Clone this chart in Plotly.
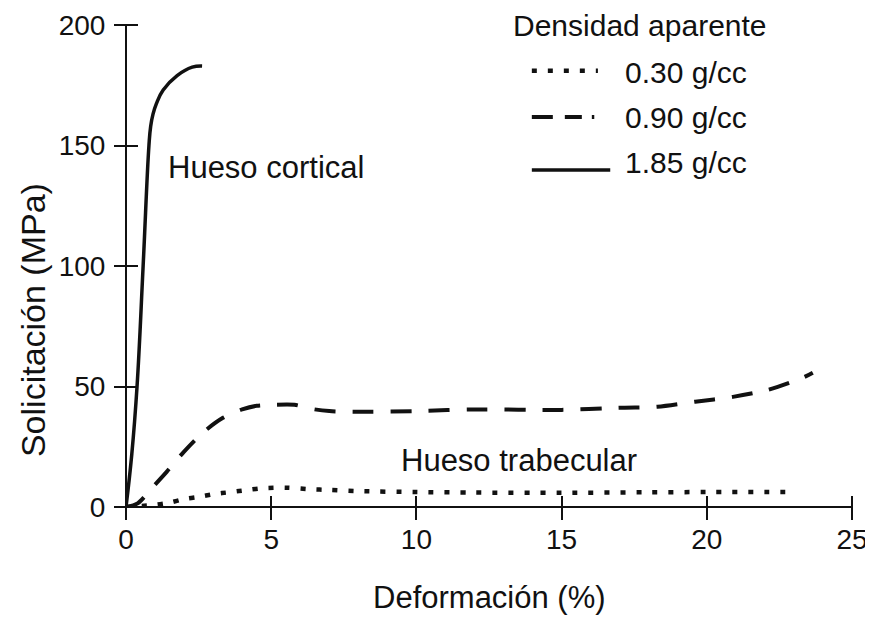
import plotly.graph_objects as go

# stress-strain curves: strain (%) -> stress (MPa)
cortical_x = [0, 0.2, 0.38, 0.59, 0.79, 0.85, 0.93, 1.05, 1.28, 1.76, 2.28, 2.62]
cortical_y = [0, 22, 50, 100, 150, 158, 163, 167.5, 173, 179, 182.5, 183]

trab_090_x = [0, 0.4, 0.9, 1.4, 2.0, 2.66, 3.34, 4.0, 4.5, 5.1, 5.8, 6.4, 7.0,
              8.0, 10.0, 12.0, 15.0, 17.1, 18.3, 19.6, 20.9, 22.1, 23.3, 23.65]
trab_090_y = [0, 1.5, 8, 14.6, 23, 31, 37, 40.5, 42, 42.4, 42.4, 40.7, 39.8,
              39.5, 39.8, 40.5, 40.3, 41.2, 41.6, 43.7, 45.7, 48.6, 53.6, 55.7]

trab_030_x = [0, 0.5, 1, 1.5, 2, 2.5, 3, 3.6, 4.2, 4.7, 5.5, 6.3, 7, 8, 10,
              12, 15, 18, 20, 23]
trab_030_y = [0, 0.4, 0.9, 1.8, 3.3, 4.2, 5.3, 6.2, 7.1, 7.8, 8, 7.4, 7.1, 6.6,
              6.2, 6, 5.9, 6.1, 6.2, 6.2]

x_ticks = [0, 5, 10, 15, 20, 25]
y_ticks = [0, 50, 100, 150, 200]

density_labels = ["0.30 g/cc", "0.90 g/cc", "1.85 g/cc"]
legend_title = "Densidad aparente"

FONT = "Liberation Sans, Arial, Helvetica, sans-serif"
INK = "#111111"

fig = go.Figure()
fig.add_trace(go.Scatter(x=trab_030_x, y=trab_030_y, mode="lines",
                         line=dict(color=INK, width=4.5, dash="5px,11px",
                                   shape="spline", smoothing=0.8)))
fig.add_trace(go.Scatter(x=trab_090_x, y=trab_090_y, mode="lines",
                         line=dict(color=INK, width=4, dash="21px,17px",
                                   shape="spline", smoothing=0.8)))
fig.add_trace(go.Scatter(x=cortical_x, y=cortical_y, mode="lines",
                         line=dict(color=INK, width=3.5,
                                   shape="spline", smoothing=1.2)))

# Ticks in the print cross the axis line. The tick axes sit 12px inside the
# plot with 24px outside ticks; the axis lines themselves are the zero lines.
PLOT_W, PLOT_H = 726, 482
axis_common = dict(showgrid=False, showline=False, zeroline=True,
                   zerolinecolor=INK, zerolinewidth=2,
                   ticks="outside", ticklen=24, tickcolor=INK, tickwidth=2,
                   automargin=False, ticklabeloverflow="allow",
                   tickfont=dict(size=28, color=INK, family=FONT))
fig.update_xaxes(range=[0, 25], tickvals=x_ticks, anchor="free",
                 position=12 / PLOT_H, ticklabelstandoff=-5, **axis_common)
fig.update_yaxes(range=[0, 200], tickvals=y_ticks, anchor="free",
                 position=12 / PLOT_W, ticklabelstandoff=3, **axis_common)

# legend drawn by hand to match the printed key
legend_rows = [(0.905, "5px,11px", 4.5, 0.650),
               (0.809, "21px,12px,17px,10px,3px,200px", 4, 0.645),
               (0.699, "solid", 3.5, 0.667)]
for (y, dash, w, x1), label, ty in zip(legend_rows, density_labels,
                                      [0.902, 0.809, 0.714]):
    fig.add_shape(type="line", xref="paper", yref="paper", x0=0.559, x1=x1,
                  y0=y, y1=y, line=dict(color=INK, width=w, dash=dash))
    fig.add_annotation(xref="paper", yref="paper", x=0.685, y=ty, text=label,
                       showarrow=False, xanchor="left", yanchor="middle",
                       font=dict(size=30, color=INK, family=FONT))
fig.add_annotation(xref="paper", yref="paper", x=0.708, y=1.0, text=legend_title,
                   showarrow=False, xanchor="center", yanchor="middle",
                   font=dict(size=30, color=INK, family=FONT))

fig.add_annotation(x=4.82, y=140.7, text="Hueso cortical", showarrow=False,
                   font=dict(size=31, color=INK, family=FONT))
fig.add_annotation(x=13.53, y=19.5, text="Hueso trabecular", showarrow=False,
                   font=dict(size=31, color=INK, family=FONT))
# axis titles
fig.add_annotation(xref="paper", yref="paper", x=-0.128, y=0.388,
                   text="Solicitación (MPa)", textangle=-90, showarrow=False,
                   xanchor="center", yanchor="middle",
                   font=dict(size=34, color=INK, family=FONT))
fig.add_annotation(xref="paper", yref="paper", x=0.5, y=-0.187,
                   text="Deformación (%)", showarrow=False,
                   xanchor="center", yanchor="middle",
                   font=dict(size=31, color=INK, family=FONT))

# the page body adds an 8px offset, so the figure is sized to fit inside it
fig.update_layout(
    width=864, height=611,
    margin=dict(l=118, r=20, t=17, b=112),
    paper_bgcolor="white", plot_bgcolor="white",
    showlegend=False,
)
fig.write_html("out.html")
